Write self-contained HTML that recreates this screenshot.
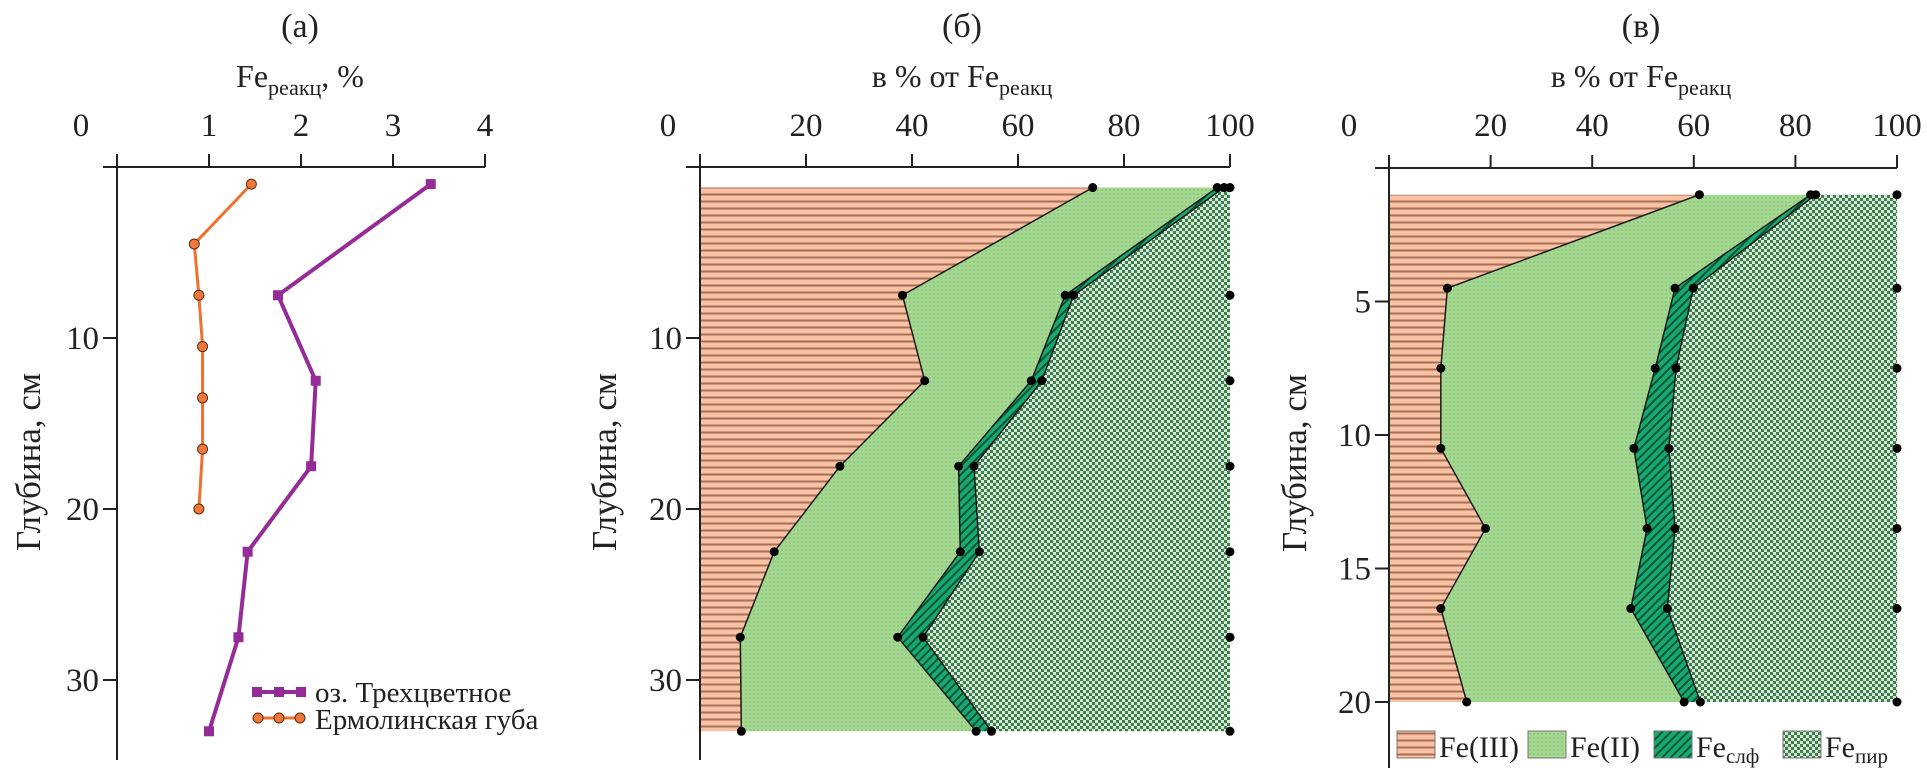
<!DOCTYPE html>
<html><head><meta charset="utf-8">
<style>
html,body{margin:0;padding:0;background:#fff;}
svg{display:block;font-family:"Liberation Serif","DejaVu Serif",serif;}
svg text{font-family:"Liberation Serif","DejaVu Serif",serif;}
</style></head>
<body>
<svg id="chart" width="1927" height="768" viewBox="0 0 1927 768" xmlns="http://www.w3.org/2000/svg">
<defs>
<pattern id="pFe3" patternUnits="userSpaceOnUse" width="8" height="7"><rect width="8" height="7" fill="#f8c3a5"/><rect y="4.5" width="8" height="2" fill="#a86f55"/></pattern>
<pattern id="pFe2" patternUnits="userSpaceOnUse" width="4" height="4"><rect width="4" height="4" fill="#a4d891"/><circle cx="2" cy="2" r="0.9" fill="#86c173"/></pattern>
<pattern id="pSlf" patternUnits="userSpaceOnUse" width="6" height="6" patternTransform="rotate(45)"><rect width="6" height="6" fill="#17a970"/><rect width="2" height="6" fill="#0b5538"/></pattern>
<pattern id="pPir" patternUnits="userSpaceOnUse" width="6" height="6"><rect width="6" height="6" fill="#d4ead3"/><rect width="3" height="3" fill="#3f7c51"/><rect x="3" y="3" width="3" height="3" fill="#3f7c51"/></pattern>
</defs>
<g id="panelA"></g>
<g id="panelB"></g>
<g id="panelC"></g>
</svg>
<script>
// Panel (a) data
const depthTri = [1, 7.5, 12.5, 17.5, 22.5, 27.5, 33];
const feTri = [3.41, 1.75, 2.16, 2.11, 1.42, 1.32, 1.0];
const depthErm = [1, 4.5, 7.5, 10.5, 13.5, 16.5, 20];
const feErm = [1.46, 0.84, 0.89, 0.93, 0.93, 0.93, 0.89];
const ticksA = [0, 1, 2, 3, 4];
const depthTicksA = [10, 20, 30];
// Panel (б) data: cumulative boundaries, % of Fe reactive
const depthB = [1.2, 7.5, 12.5, 17.5, 22.5, 27.5, 33];
const fe3B = [74.1, 38.2, 42.4, 26.4, 14.0, 7.6, 7.8];
const fe2CumB = [97.6, 68.9, 62.5, 48.8, 49.1, 37.3, 52.1];
const slfCumB = [98.9, 70.5, 64.5, 51.7, 52.7, 42.1, 55.0];
// Panel (в) data
const depthC = [1, 4.5, 7.5, 10.5, 13.5, 16.5, 20];
const fe3C = [61.1, 11.5, 10.2, 10.2, 19.0, 10.2, 15.3];
const fe2CumC = [83.0, 56.3, 52.4, 48.2, 50.8, 47.6, 58.1];
const slfCumC = [84.0, 59.9, 56.5, 55.1, 56.3, 54.8, 61.3];
const pctTicks = [0, 20, 40, 60, 80, 100];
const depthTicksB = [10, 20, 30];
const depthTicksC = [5, 10, 15, 20];

const NS = "http://www.w3.org/2000/svg";
const FONT = '"Liberation Serif", "DejaVu Serif", serif';
function mk(parent, tag, attrs, text) {
  const e = document.createElementNS(NS, tag);
  for (const k in attrs) e.setAttribute(k, attrs[k]);
  if (tag === "text") e.setAttribute("font-family", FONT);
  if (text !== undefined) e.textContent = text;
  parent.appendChild(e);
  return e;
}
function lin(d0, d1, r0, r1) { return v => r0 + (v - d0) * (r1 - r0) / (d1 - d0); }

function axes(g, o) {
  let e = mk(g, "line", {x1: o.x0 - 14, x2: o.xEnd, y1: o.top, y2: o.top, stroke: "#222", "stroke-width": 2});
  
  
  e = mk(g, "line", {x1: o.x0, x2: o.x0, y1: o.top - 12, y2: o.bottom, stroke: "#222", "stroke-width": 2});
  
  
  o.xt.forEach((t, i) => {
    const x = o.sx(t);
    const tk = mk(g, "line", {x1: x, x2: x, y1: o.top - 13, y2: o.top, stroke: "#222", "stroke-width": 2});
    
    
    const lx = i === 0 ? o.zeroLabelX : x;
    const lb = mk(g, "text", {x: lx, y: 136, "font-size": 33, "text-anchor": "middle", fill: "#222"}, String(t));
    
    
  });
  o.yt.forEach(t => {
    const y = o.sy(t);
    const tk = mk(g, "line", {x1: o.x0 - 14, x2: o.x0, y1: y, y2: y, stroke: "#222", "stroke-width": 2});
    
    
    const lb = mk(g, "text", {x: o.x0 - 18, y: y + 11, "font-size": 33, "text-anchor": "end", fill: "#222"}, String(t));
    
    
  });
  const pt = mk(g, "text", {x: o.cx, y: 37, "font-size": 34, "text-anchor": "middle", fill: "#222"}, o.panel);
  
  
  const xt = mk(g, "text", {x: o.cx, y: 87, "font-size": 32, "text-anchor": "middle", fill: "#222"});
  
  
  mk(xt, "tspan", {}, o.pre + "Fe");
  mk(xt, "tspan", {"font-size": 22, dy: 8}, "реакц");
  if (o.post) mk(xt, "tspan", {dy: -8}, o.post);
  const yt = mk(g, "text", {x: 0, y: 0, "font-size": 35, "text-anchor": "middle", fill: "#222", transform: `translate(${o.ytx},${o.yty}) rotate(-90)`}, "Глубина, см");
  
  
}

/* ---------- Panel A ---------- */
(function(){
  const g = document.getElementById("panelA");
  const sx = lin(0, 4, 117, 485), sy = lin(0, 10, 167, 338);
  axes(g, {x0: 117, xEnd: 485, top: 167, bottom: 760, sx, sy, xt: ticksA, yt: depthTicksA, zeroLabelX: 81, cx: 300, panel: "(a)", pre: "", post: ", %", ytx: 40, yty: 462});
  const serA = [
    {d: depthTri, v: feTri, c: "#952b96", name: "series-trekhtsvetnoe", sq: true},
    {d: depthErm, v: feErm, c: "#f07030", name: "series-ermolinskaya", sq: false}
  ];
  serA.forEach(s => {
    const pts = s.d.map((d, i) => [sx(s.v[i]), sy(d)]);
    const pl = mk(g, "polyline", {points: pts.map(p => p.join(",")).join(" "), fill: "none", stroke: s.c, "stroke-width": s.sq ? 4 : 3});
    
    
    pts.forEach(p => {
      let m;
      if (s.sq) m = mk(g, "rect", {x: p[0] - 5, y: p[1] - 5, width: 10, height: 10, fill: s.c});
      else m = mk(g, "circle", {cx: p[0], cy: p[1], r: 5, fill: "#f07838", stroke: "#5a2a10", "stroke-width": 1});
      
      
    });
  });
  const lg = mk(g, "g", {});
  
  
  let l = mk(lg, "line", {x1: 253, x2: 305, y1: 692, y2: 692, stroke: "#952b96", "stroke-width": 4});
  
  
  [257, 279, 301].forEach(x => { const r = mk(lg, "rect", {x: x - 5, y: 687, width: 10, height: 10, fill: "#952b96"});   });
  l = mk(lg, "line", {x1: 253, x2: 305, y1: 718, y2: 718, stroke: "#f07030", "stroke-width": 3});
  
  
  [258, 279, 300].forEach(x => { const c = mk(lg, "circle", {cx: x, cy: 718, r: 5, fill: "#f07838", stroke: "#5a2a10", "stroke-width": 1});   });
  let t = mk(lg, "text", {x: 315, y: 702, "font-size": 29, fill: "#222"}, "оз. Трехцветное");
  
  
  t = mk(lg, "text", {x: 315, y: 729, "font-size": 29, fill: "#222"}, "Ермолинская губа");
  
  
})();

/* ---------- stacked area panels ---------- */
function stacked(g, sx, sy, depth, b1, b2, b3) {
  const zero = depth.map(() => 0), hundred = depth.map(() => 100);
  const layers = [[zero, b1, "url(#pFe3)", "area-fe3"], [b1, b2, "url(#pFe2)", "area-fe2"], [b2, b3, "url(#pSlf)", "area-fe-slf"], [b3, hundred, "url(#pPir)", "area-fe-pir"]];
  layers.forEach(L => {
    const left = depth.map((d, i) => [sx(L[0][i]), sy(d)]);
    const right = depth.map((d, i) => [sx(L[1][i]), sy(d)]).reverse();
    const pts = left.concat(right).map(p => p.join(",")).join(" ");
    const pg = mk(g, "polygon", {points: pts, fill: L[2], stroke: "none"});
    
    
  });
  [b1, b2, b3].forEach(b => {
    const pts = depth.map((d, i) => [sx(b[i]), sy(d)]);
    const pl = mk(g, "polyline", {points: pts.map(p => p.join(",")).join(" "), fill: "none", stroke: "#1a1a1a", "stroke-width": 1.5});
    
    
  });
  [b1, b2, b3, hundred].forEach(b => depth.forEach((d, i) => {
    const c = mk(g, "circle", {cx: sx(b[i]), cy: sy(d), r: 4.5, fill: "#000"});
    
    
  }));
}

(function(){
  const g = document.getElementById("panelB");
  const sx = lin(0, 100, 700, 1230), sy = lin(0, 10, 167, 338);
  stacked(g, sx, sy, depthB, fe3B, fe2CumB, slfCumB);
  axes(g, {x0: 700, xEnd: 1230, top: 167, bottom: 760, sx, sy, xt: pctTicks, yt: depthTicksB, zeroLabelX: 668, cx: 962, panel: "(б)", pre: "в % от ", post: "", ytx: 616, yty: 462});
})();

(function(){
  const g = document.getElementById("panelC");
  const sx = lin(0, 100, 1389, 1897), sy = lin(0, 5, 168, 301.5);
  stacked(g, sx, sy, depthC, fe3C, fe2CumC, slfCumC);
  axes(g, {x0: 1389, xEnd: 1897, top: 168, bottom: 768, sx, sy, xt: pctTicks, yt: depthTicksC, zeroLabelX: 1349, cx: 1641, panel: "(в)", pre: "в % от ", post: "", ytx: 1306, yty: 463});
  const lg = mk(g, "g", {});
  
  
  const items = [[1397, "url(#pFe3)", "Fe(III)", "", "legend-entry-fe3"], [1528, "url(#pFe2)", "Fe(II)", "", "legend-entry-fe2"], [1654, "url(#pSlf)", "Fe", "слф", "legend-entry-fe-slf"], [1783, "url(#pPir)", "Fe", "пир", "legend-entry-fe-pir"]];
  items.forEach(it => {
    const r = mk(lg, "rect", {x: it[0], y: 731, width: 38, height: 27, fill: it[1], stroke: "#777", "stroke-width": 1});
    
    
    const t = mk(lg, "text", {x: it[0] + 42, y: 757, "font-size": 30, fill: "#222"});
    
    
    mk(t, "tspan", {}, it[2]);
    if (it[3]) mk(t, "tspan", {"font-size": 21, dy: 6}, it[3]);
  });
})();
</script>
</body></html>
